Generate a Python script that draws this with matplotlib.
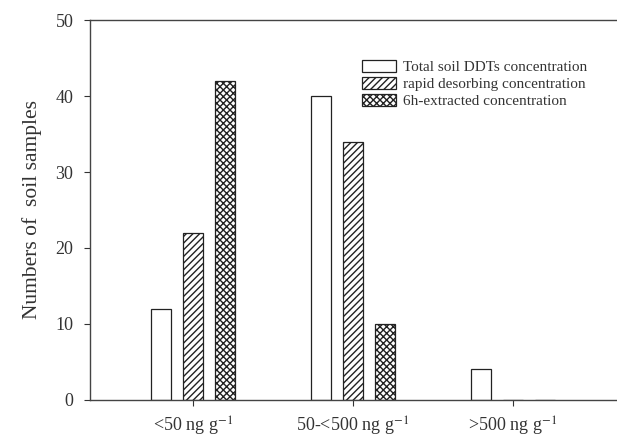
import matplotlib
matplotlib.use('Agg')
import matplotlib.pyplot as plt
import numpy as np

plt.rcParams['font.family'] = ['Liberation Serif', 'DejaVu Serif']
plt.rcParams['mathtext.fontset'] = 'stix'
plt.rcParams['hatch.linewidth'] = 1.0

categories = ['<50 ng g$^{-1}$', '50-<500 ng g$^{-1}$', '>500 ng g$^{-1}$']
total_ddt = [12, 40, 4]
rapid_desorbing = [22, 34, 0]
extracted_6h = [42, 10, 0]
series_labels = ['Total soil DDTs concentration',
                 'rapid desorbing concentration',
                 '6h-extracted concentration']

fig = plt.figure(figsize=(6.17, 4.37), dpi=100)
ax = fig.add_axes([0.146, 0.085, 0.854, 0.869])

x = np.arange(len(categories))
w = 0.125
edge = '#222222'
ax.bar(x - 0.2, total_ddt, w, color='white', edgecolor=edge, linewidth=0.9,
       label=series_labels[0])
ax.bar(x, rapid_desorbing, w, color='white', edgecolor=edge, linewidth=0.9,
       hatch='/////', label=series_labels[1])
ax.bar(x + 0.2, extracted_6h, w, color='white', edgecolor=edge, linewidth=0.9,
       hatch='xxxxx', label=series_labels[2])

ax.set_xlim(-0.64, 2.65)
ax.set_ylim(0, 50)
ax.set_yticks([0, 10, 20, 30, 40, 50])
ax.set_xticks(x)
ax.set_xticklabels(categories, fontsize=13)
ax.tick_params(axis='y', labelsize=13, direction='out', length=4, pad=8, colors='#333333')
ax.tick_params(axis='x', direction='out', length=4, colors='#333333', pad=7)
ax.set_ylabel('Numbers of  soil samples', fontsize=15.5, color='#333333', labelpad=10)

for side in ['left', 'bottom', 'top']:
    ax.spines[side].set_color('#444444')
    ax.spines[side].set_linewidth(1.0)
ax.spines['right'].set_visible(False)

ax.legend(loc='upper left', bbox_to_anchor=(0.49, 0.93), frameon=False,
          fontsize=11, handlelength=2.2, handleheight=0.75,
          labelspacing=0.2, handletextpad=0.5, labelcolor='#333333')

fig.savefig('out.png', dpi=100)
